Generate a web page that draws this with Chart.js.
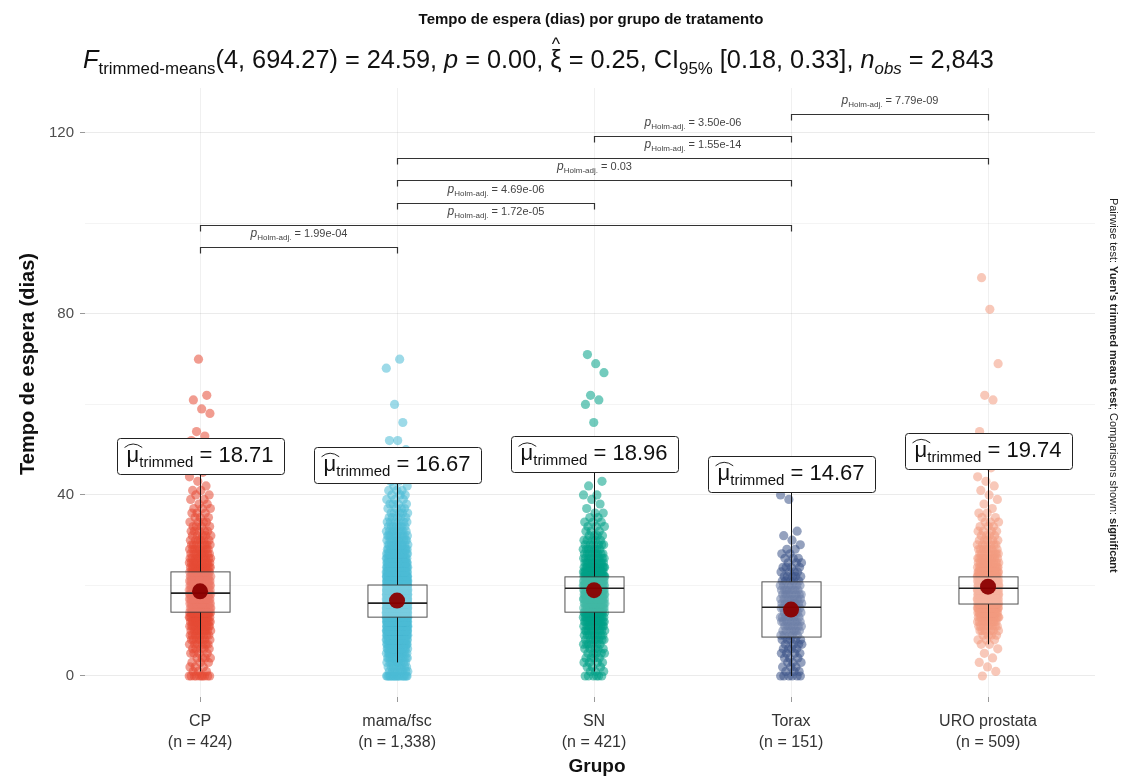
<!DOCTYPE html>
<html>
<head>
<meta charset="utf-8">
<script src="https://cdn.jsdelivr.net/npm/chart.js@4.4.0/dist/chart.umd.min.js"></script>
<style>
  html, body { margin: 0; padding: 0; background: #fff; }
</style>
</head>
<body>
<canvas id="chart" width="1126" height="781"></canvas>
<script>
const groups = ['CP', 'mama/fsc', 'SN', 'Torax', 'URO prostata'];
const groupN = [424, 1338, 421, 151, 509];
const groupColors = ['#E64B35', '#4DBBD5', '#00A087', '#3C5488', '#F39B7F'];

// patients per waiting time, index = days
const countsCP = [
  10, 3, 3, 3, 4, 4, 5, 6, 7, 8,
  10, 12, 14, 16, 19, 21, 22, 23, 23, 22,
  21, 20, 18, 15, 13, 12, 10, 9, 8, 7,
  6, 5, 5, 4, 4, 3, 3, 3, 2, 2,
  2, 2, 1, 1, 1, 1, 1, 0, 1, 0,
  1, 0, 1, 1, 1, 0, 0, 0, 1, 1,
  0, 1, 1, 0, 0, 0, 0, 0, 0, 0, 1
];
const countsMama = [
  20, 8, 8, 9, 12, 15, 18, 22, 27, 41,
  48, 56, 64, 72, 80, 86, 88, 86, 82, 76,
  68, 60, 45, 38, 32, 27, 22, 18, 15, 12,
  10, 9, 8, 7, 6, 5, 5, 4, 4, 3,
  3, 3, 2, 2, 1, 1, 1, 1, 1, 0,
  1, 0, 2, 0, 0, 0, 1, 0, 0, 0,
  1, 0, 0, 0, 0, 0, 0, 0, 1, 0, 1
];
const countsSN = [
  6, 3, 3, 4, 4, 5, 5, 6, 7, 8,
  9, 11, 13, 15, 16, 20, 21, 23, 25, 27,
  28, 27, 23, 19, 16, 11, 9, 8, 7, 6,
  5, 4, 3, 3, 3, 2, 2, 1, 1, 1,
  2, 0, 1, 1, 0, 0, 0, 0, 0, 0,
  0, 0, 0, 0, 0, 0, 1, 0, 0, 0,
  1, 1, 1, 0, 0, 0, 0, 1, 0, 1, 0, 1
];
const countsTorax = [
  6, 3, 3, 3, 3, 4, 4, 4, 5, 5,
  6, 6, 7, 7, 7, 8, 8, 7, 7, 7,
  6, 5, 5, 4, 4, 3, 3, 2, 2, 1,
  1, 1, 1, 0, 0, 0, 0, 0, 0, 1,
  1, 0, 1
];
const countsURO = [
  1, 1, 1, 1, 1, 1, 1, 2, 3, 4,
  6, 8, 10, 14, 20, 28, 36, 42, 46, 46,
  42, 36, 29, 24, 18, 14, 11, 9, 7, 6,
  5, 4, 4, 3, 3, 2, 2, 1, 1, 1,
  1, 1, 1, 1, 1, 0, 1, 0, 1, 0,
  1, 1, 0, 0, 1, 0, 0, 0, 0, 0,
  0, 1, 1, 0, 0, 0, 0, 0, 0, 1,
  0, 0, 0, 0, 0, 0, 0, 0, 0, 0,
  0, 1, 0, 0, 0, 0, 0, 0, 1
];
const groupCounts = [countsCP, countsMama, countsSN, countsTorax, countsURO];

// box plot summaries (days)
const q1 = [14.1, 13.0, 14.1, 8.6, 15.9];
const median = [18.3, 16.1, 19.4, 15.2, 19.4];
const q3 = [23.0, 20.1, 21.9, 20.8, 21.9];
const whiskerLow = [1, 3, 1, 0, 7];
const whiskerHigh = [36, 30, 33, 39, 30];
const trimmedMeans = [18.71, 16.67, 18.96, 14.67, 19.74];

// significant pairwise Yuen tests, Holm adjusted
const pairFrom = [0, 0, 1, 1, 1, 2, 3];
const pairTo = [1, 3, 2, 3, 4, 3, 4];
const pairP = ['1.99e-04', '1.72e-05', '4.69e-06', '0.03', '1.55e-14', '3.50e-06', '7.79e-09'];

const yTicks = [0, 20, 40, 60, 80, 100, 120];

const FONT = '"Liberation Sans", Arial, Helvetica, sans-serif';
const JITTER = 0.055;
const LABEL_LIFT = 30;        // mean labels sit this many days above the mean
const BRACKET_BASE = 94.8;
const BRACKET_STEP = 4.9;

function stripPoints(counts, gi){
    const pts = [];
    let j = 0;
    counts.forEach((c, day) => {
        for(let k = 0; k < c; k++){
            const f = (j * 0.6180339887 + gi * 0.31) % 1;
            pts.push({x: gi + (f - 0.5) * 2 * JITTER, y: day});
            j++;
        }
    });
    return pts;
}

function hexA(hex, a){
    const n = parseInt(hex.slice(1), 16);
    return `rgba(${n >> 16},${(n >> 8) & 255},${n & 255},${a})`;
}

function fontOf(r){
    return `${r.italic ? 'italic ' : ''}${r.bold ? 'bold ' : ''}${r.size}px ${FONT}`;
}

// draws a row of text pieces (for sub/superscripts), keeps each piece's position
function drawRuns(ctx, runs, x, y, align){
    let w = 0;
    runs.forEach(r => { ctx.font = fontOf(r); r.w = ctx.measureText(r.t).width; w += r.w; });
    let cx = align === 'center' ? x - w / 2 : x;
    runs.forEach(r => {
        ctx.font = fontOf(r);
        ctx.fillText(r.t, cx, y + (r.dy || 0));
        r.x = cx;
        cx += r.w;
    });
    return w;
}

function measureRuns(ctx, runs){
    let w = 0;
    runs.forEach(r => { ctx.font = fontOf(r); w += ctx.measureText(r.t).width; });
    return w;
}

function scaleRuns(runs, k){
    return runs.map(r => Object.assign({}, r, {size: r.size * k, dy: (r.dy || 0) * k}));
}

const boxLayer = {
    id: 'boxLayer',
    afterDatasetDraw(chart, args){
        if(args.index !== 1) return;
        const ctx = chart.ctx;
        const xs = chart.scales.x, ys = chart.scales.y;
        const half = (xs.getPixelForValue(0.15) - xs.getPixelForValue(0));
        ctx.save();
        groups.forEach((g, i) => {
            const cx = Math.round(xs.getPixelForValue(i)) + 0.5;
            // whiskers and the segment up to the mean label
            ctx.strokeStyle = '#111';
            ctx.lineWidth = 1;
            ctx.beginPath();
            ctx.moveTo(cx, ys.getPixelForValue(whiskerLow[i]));
            ctx.lineTo(cx, ys.getPixelForValue(q1[i]));
            ctx.moveTo(cx, ys.getPixelForValue(q3[i]));
            ctx.lineTo(cx, ys.getPixelForValue(Math.max(whiskerHigh[i], trimmedMeans[i] + LABEL_LIFT - 4)));
            ctx.stroke();
            // box
            const top = ys.getPixelForValue(q3[i]);
            const bot = ys.getPixelForValue(q1[i]);
            ctx.fillStyle = 'rgba(255,255,255,0.25)';
            ctx.fillRect(cx - half, top, half * 2, bot - top);
            ctx.strokeStyle = 'rgba(50,50,50,0.85)';
            ctx.strokeRect(cx - half, top, half * 2, bot - top);
            ctx.beginPath();
            ctx.lineWidth = 1.6;
            ctx.strokeStyle = '#222';
            const my = ys.getPixelForValue(median[i]);
            ctx.moveTo(cx - half, my);
            ctx.lineTo(cx + half, my);
            ctx.stroke();
        });
        ctx.restore();
    }
};

const annotations = {
    id: 'annotations',
    afterDatasetsDraw(chart){
        const ctx = chart.ctx;
        const xs = chart.scales.x, ys = chart.scales.y;
        ctx.save();
        ctx.textBaseline = 'alphabetic';

        // trimmed mean labels
        groups.forEach((g, i) => {
            const cx = xs.getPixelForValue(i);
            const cy = ys.getPixelForValue(trimmedMeans[i] + LABEL_LIFT);
            const runs = [
                {t: 'μ', size: 22},
                {t: 'trimmed', size: 15, dy: 5},
                {t: ' = ' + trimmedMeans[i].toFixed(2), size: 22}
            ];
            const w = measureRuns(ctx, runs);
            const pad = 10, h = 36;
            ctx.fillStyle = '#fff';
            ctx.strokeStyle = '#222';
            ctx.lineWidth = 1;
            ctx.beginPath();
            ctx.roundRect(Math.round(cx - w / 2 - pad) + 0.5, Math.round(cy - h / 2) + 0.5, Math.round(w + pad * 2), h, 3);
            ctx.fill();
            ctx.stroke();
            ctx.fillStyle = '#111';
            drawRuns(ctx, runs, cx, cy + 6, 'center');
            const mu = runs[0];
            ctx.beginPath();
            ctx.lineWidth = 1;
            ctx.moveTo(mu.x - 2, cy - 8);
            ctx.quadraticCurveTo(mu.x + mu.w / 2, cy - 15, mu.x + mu.w + 3, cy - 8);
            ctx.stroke();
        });

        // pairwise comparison brackets
        pairFrom.forEach((a, k) => {
            const b = pairTo[k];
            const level = BRACKET_BASE + BRACKET_STEP * k;
            const y = Math.round(ys.getPixelForValue(level)) + 0.5;
            const xa = Math.round(xs.getPixelForValue(a)) + 0.5;
            const xb = Math.round(xs.getPixelForValue(b)) + 0.5;
            ctx.strokeStyle = '#333';
            ctx.lineWidth = 1.2;
            ctx.beginPath();
            ctx.moveTo(xa, y + 6);
            ctx.lineTo(xa, y);
            ctx.lineTo(xb, y);
            ctx.lineTo(xb, y + 6);
            ctx.stroke();
            ctx.fillStyle = '#444';
            drawRuns(ctx, [
                {t: 'p', size: 12, italic: true},
                {t: 'Holm-adj.', size: 8, dy: 3},
                {t: ' = ' + pairP[k], size: 11}
            ], (xa + xb) / 2, y - 11, 'center');
        });
        ctx.restore();
    },
    afterDraw(chart){
        const ctx = chart.ctx;
        ctx.save();
        ctx.fillStyle = '#111';
        ctx.textBaseline = 'middle';
        ctx.textAlign = 'center';
        ctx.font = `bold 15px ${FONT}`;
        ctx.fillText('Tempo de espera (dias) por grupo de tratamento', 591, 20);

        // statistical subtitle, fitted to its line
        ctx.textAlign = 'left';
        ctx.textBaseline = 'alphabetic';
        let sub = [
            {t: 'F', size: 21, italic: true},
            {t: 'trimmed-means', size: 14, dy: 5},
            {t: '(4, 694.27) = 24.59, ', size: 21},
            {t: 'p', size: 21, italic: true},
            {t: ' = 0.00, ', size: 21},
            {t: 'ξ', size: 21, hat: true},
            {t: ' = 0.25, CI', size: 21},
            {t: '95%', size: 14, dy: 5},
            {t: ' [0.18, 0.33], ', size: 21},
            {t: 'n', size: 21, italic: true},
            {t: 'obs', size: 14, dy: 5, italic: true},
            {t: ' = 2,843', size: 21}
        ];
        sub = scaleRuns(sub, 911 / measureRuns(ctx, sub));
        drawRuns(ctx, sub, 83, 68, 'left');
        sub.filter(r => r.hat).forEach(r => {
            ctx.font = `${r.size * 0.7}px ${FONT}`;
            ctx.textAlign = 'center';
            ctx.fillText('^', r.x + r.w / 2, 68 - r.size * 0.72);
            ctx.textAlign = 'left';
        });

        // axis titles
        ctx.font = `bold 19px ${FONT}`;
        ctx.textAlign = 'center';
        ctx.textBaseline = 'middle';
        ctx.fillText('Grupo', 597, 767);
        ctx.save();
        ctx.translate(28, 364);
        ctx.rotate(-Math.PI / 2);
        ctx.font = `bold 20px ${FONT}`;
        ctx.fillText('Tempo de espera (dias)', 0, 0);
        ctx.restore();

        // pairwise caption on the right
        ctx.save();
        ctx.translate(1113, 198);
        ctx.rotate(Math.PI / 2);
        ctx.textAlign = 'left';
        ctx.fillStyle = '#222';
        let cap = [
            {t: 'Pairwise test: ', size: 10},
            {t: "Yuen's trimmed means test", size: 10, bold: true},
            {t: '; Comparisons shown: ', size: 10},
            {t: 'significant', size: 10, bold: true}
        ];
        cap = scaleRuns(cap, 375 / measureRuns(ctx, cap));
        drawRuns(ctx, cap, 0, 0, 'left');
        ctx.restore();
        ctx.restore();
    }
};

const datasets = [{
    label: 'trimmed mean',
    data: trimmedMeans.map((m, i) => ({x: i, y: m})),
    pointRadius: 8,
    pointBackgroundColor: 'rgba(139,0,0,0.95)',
    pointBorderWidth: 0
}];
groups.forEach((g, i) => {
    datasets.push({
        label: g,
        data: stripPoints(groupCounts[i], i),
        pointRadius: 4.6,
        pointBackgroundColor: hexA(groupColors[i], 0.55),
        pointBorderWidth: 0
    });
});

const gridColor = ctx => (ctx.tick && ctx.tick.value % 40 === 0) ? 'rgba(0,0,0,0.08)' : 'rgba(0,0,0,0.045)';

new Chart(document.getElementById('chart'), {
    type: 'scatter',
    data: { datasets: datasets },
    options: {
        responsive: false,
        animation: false,
        layout: { padding: { top: 88, right: 31, left: 0, bottom: 0 } },
        plugins: { legend: { display: false }, tooltip: { enabled: false } },
        scales: {
            x: {
                type: 'linear',
                min: -0.584,
                max: 4.543,
                afterFit: scale => { scale.height = 84; },
                afterBuildTicks: scale => { scale.ticks = groups.map((g, i) => ({value: i})); },
                grid: { color: 'rgba(0,0,0,0.06)', tickColor: '#999', tickLength: 5, drawTicks: true },
                border: { display: false },
                ticks: {
                    padding: 9,
                    color: '#333',
                    font: { family: FONT, size: 16, lineHeight: 1.3 },
                    maxRotation: 0,
                    callback: v => [groups[v], '(n = ' + groupN[v].toLocaleString('en-US') + ')']
                }
            },
            y: {
                min: -4.64,
                max: 129.9,
                afterFit: scale => { scale.width = 85; },
                afterBuildTicks: scale => { scale.ticks = yTicks.map(v => ({value: v})); },
                grid: { color: gridColor, tickColor: ctx => ctx.tick.value % 40 === 0 ? '#999' : 'rgba(0,0,0,0)', tickLength: 5 },
                border: { display: false },
                ticks: {
                    padding: 6,
                    color: '#4d4d4d',
                    font: { family: FONT, size: 15 },
                    callback: v => v % 40 === 0 ? String(v) : ''
                }
            }
        }
    },
    plugins: [boxLayer, annotations]
});
</script>
</body>
</html>
